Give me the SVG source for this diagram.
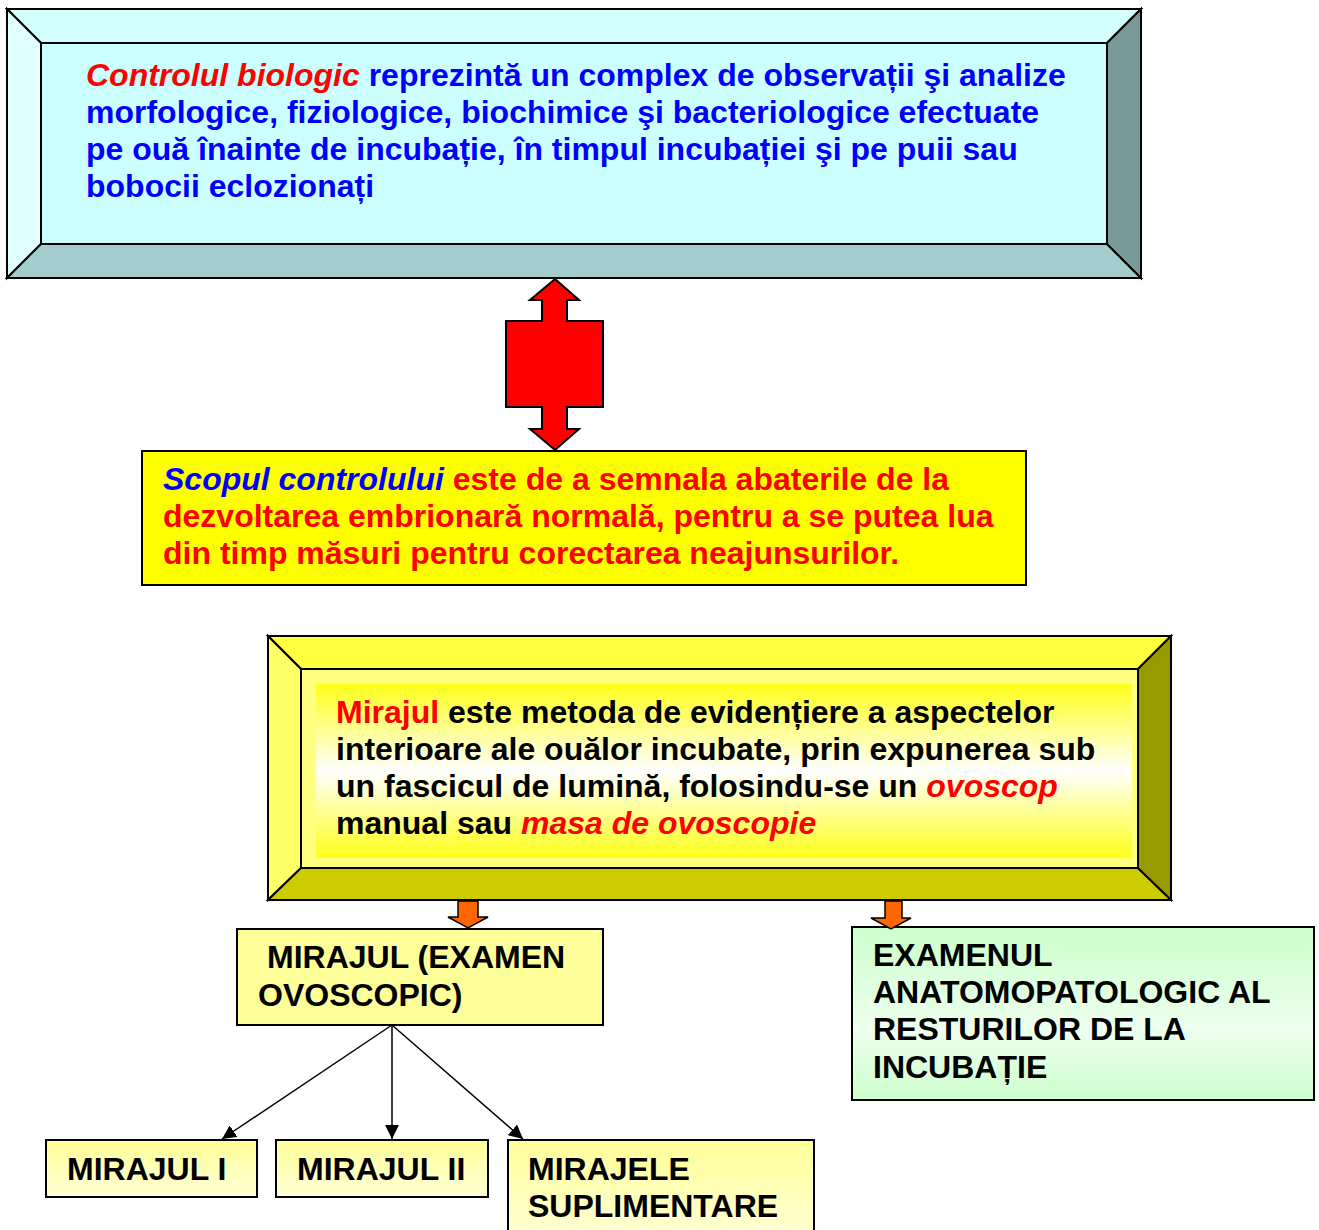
<svg xmlns="http://www.w3.org/2000/svg" width="1319" height="1230" viewBox="0 0 1319 1230">
<defs>
<linearGradient id="gMir" x1="0" y1="0" x2="0" y2="1">
<stop offset="0" stop-color="#ffff1a"/>
<stop offset="0.5" stop-color="#ffffff"/>
<stop offset="1" stop-color="#ffff1a"/>
</linearGradient>
<linearGradient id="gGreen" x1="0" y1="0" x2="0" y2="1">
<stop offset="0" stop-color="#ccffcc"/>
<stop offset="0.6" stop-color="#eeffee"/>
<stop offset="1" stop-color="#ccffcc"/>
</linearGradient>
<linearGradient id="gPale" x1="0" y1="0" x2="0" y2="1">
<stop offset="0" stop-color="#ffff99"/>
<stop offset="1" stop-color="#ffffd6"/>
</linearGradient>
<marker id="ahb" viewBox="0 0 12 12" refX="12" refY="6" markerWidth="14" markerHeight="14" markerUnits="userSpaceOnUse" orient="auto">
<path d="M0,0 L12,6 L0,12 z" fill="#000"/>
</marker>
</defs>
<style>
text{font-family:"Liberation Sans",Arial,sans-serif;font-weight:bold;font-size:32px}
.blue{fill:#0000ff}
.red{fill:#ff0000}
.blk{fill:#000}
.it{font-style:italic}
.edge{stroke:#000;stroke-width:2;stroke-linejoin:miter}
.thin{stroke:#000;stroke-width:1.5}
</style>

<g id="node-controlul">
<polygon points="7,9 1141,9 1107,43 41,43" fill="#d4ffff" class="edge"/>
<polygon points="7,9 41,43 41,244 7,278" fill="#e0ffff" class="edge"/>
<polygon points="7,278 41,244 1107,244 1141,278" fill="#a3cccc" class="edge"/>
<polygon points="1141,9 1141,278 1107,244 1107,43" fill="#7a9999" class="edge"/>
<rect x="41" y="43" width="1066" height="201" fill="#ccffff" class="edge"/>
<text x="86" y="86"><tspan class="red it">Controlul biologic</tspan><tspan class="blue"> reprezintă un complex de observații şi analize</tspan></text>
<text x="86" y="123" class="blue">morfologice, fiziologice, biochimice şi bacteriologice efectuate</text>
<text x="86" y="160" class="blue">pe ouă înainte de incubație, în timpul incubației şi pe puii sau</text>
<text x="86" y="197" class="blue">bobocii eclozionați</text>
</g>

<g id="node-scopul">
<rect x="142" y="451" width="884" height="134" fill="#ffff00" class="edge"/>
<text x="163" y="490"><tspan class="blue it">Scopul controlului</tspan><tspan class="red"> este de a semnala abaterile de la</tspan></text>
<text x="163" y="527" class="red">dezvoltarea embrionară normală, pentru a se putea lua</text>
<text x="163" y="564" class="red">din timp măsuri pentru corectarea neajunsurilor.</text>
</g>

<g id="node-mirajul-def">
<polygon points="268,636 1171,636 1138,669 301,669" fill="#ffff40" class="edge"/>
<polygon points="268,636 301,669 301,868 268,900" fill="#ffff66" class="edge"/>
<polygon points="268,900 301,868 1138,868 1171,900" fill="#cccc00" class="edge"/>
<polygon points="1171,636 1171,900 1138,868 1138,669" fill="#999900" class="edge"/>
<rect x="301" y="669" width="837" height="199" fill="#ffff80" class="edge"/>
<rect x="316" y="684" width="816" height="174" fill="url(#gMir)"/>
<text x="336" y="723"><tspan class="red">Mirajul</tspan><tspan class="blk"> este metoda de evidențiere a aspectelor</tspan></text>
<text x="336" y="760" class="blk">interioare ale ouălor incubate, prin expunerea sub</text>
<text x="336" y="797"><tspan class="blk">un fascicul de lumină, folosindu-se un </tspan><tspan class="red it">ovoscop</tspan></text>
<text x="336" y="834"><tspan class="blk">manual sau </tspan><tspan class="red it">masa de ovoscopie</tspan></text>
</g>

<g id="node-examen-ovoscopic">
<rect x="237" y="929" width="366" height="96" fill="#ffff99" class="edge"/>
<text x="267" y="968" class="blk">MIRAJUL (EXAMEN</text>
<text x="258" y="1006" class="blk">OVOSCOPIC)</text>
</g>

<g id="node-examen-anatomopatologic">
<rect x="852" y="927" width="462" height="173" fill="url(#gGreen)" class="edge"/>
<text x="873" y="966" class="blk">EXAMENUL</text>
<text x="873" y="1003" class="blk">ANATOMOPATOLOGIC AL</text>
<text x="873" y="1040" class="blk">RESTURILOR DE LA</text>
<text x="873" y="1078" class="blk">INCUBAȚIE</text>
</g>

<g id="node-mirajul-1">
<rect x="46" y="1140" width="211" height="57" fill="url(#gPale)" class="edge"/>
<text x="67" y="1180" class="blk">MIRAJUL I</text>
</g>

<g id="node-mirajul-2">
<rect x="276" y="1140" width="212" height="57" fill="url(#gPale)" class="edge"/>
<text x="297" y="1180" class="blk">MIRAJUL II</text>
</g>

<g id="node-mirajele-suplimentare">
<rect x="508" y="1140" width="306" height="100" fill="url(#gPale)" class="edge"/>
<text x="528" y="1180" class="blk">MIRAJELE</text>
<text x="528" y="1217" class="blk">SUPLIMENTARE</text>
</g>

<g id="connectors">
<polygon points="555,279 579,300 567,300 567,321 603,321 603,407 567,407 567,429 579,429 555,450 530,429 542,429 542,407 506,407 506,321 542,321 542,300 530,300" fill="#ff0000" class="edge"/>
<polygon points="458,901 478,901 478,917 488,917 468,928 448,917 458,917" fill="#ff6600" class="thin"/>
<polygon points="885,901 902,901 902,918 911,918 891,929 871,918 885,918" fill="#ff6600" class="thin"/>
<line x1="392" y1="1025" x2="222" y2="1139" stroke="#000" stroke-width="1.5" marker-end="url(#ahb)"/>
<line x1="392" y1="1025" x2="392" y2="1139" stroke="#000" stroke-width="1.5" marker-end="url(#ahb)"/>
<line x1="392" y1="1025" x2="523" y2="1139" stroke="#000" stroke-width="1.5" marker-end="url(#ahb)"/>
</g>
</svg>
